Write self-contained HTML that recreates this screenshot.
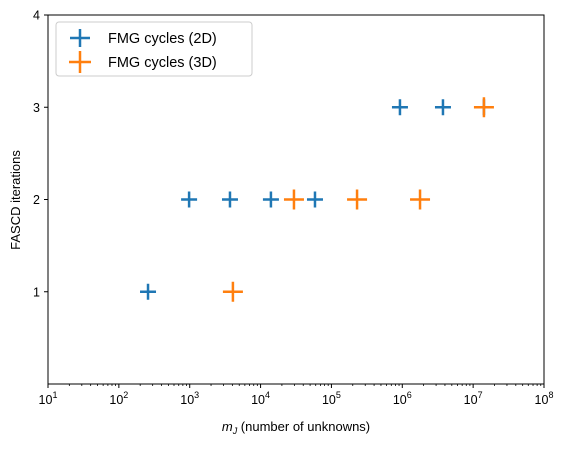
<!DOCTYPE html>
<html><head><meta charset="utf-8"><style>
body{margin:0;background:#fff;}
svg text{font-family:"Liberation Sans","DejaVu Sans",sans-serif;}
</style></head><body>
<svg id="chart" width="566" height="448" viewBox="0 0 566 448">
<rect x="0" y="0" width="566" height="448" fill="#fff"/>
<g id="marks"></g>
<rect x="48" y="15" width="496" height="369" fill="none" stroke="#000" stroke-width="1"/>
<g id="axes"></g>
<text x="296" y="431" font-size="13" text-anchor="middle"><tspan font-style="italic">m</tspan><tspan font-style="italic" font-size="9" dy="3">J</tspan><tspan dy="-3">  (number of unknowns)</tspan></text>
<text transform="translate(20,200) rotate(-90)" font-size="13" text-anchor="middle">FASCD iterations</text>
<g>
<rect x="56" y="22" width="196" height="54" rx="3" fill="#fff" stroke="#ccc" stroke-width="1" fill-opacity="0.8"/>
<g>
<line x1="70" y1="38" x2="90" y2="38" stroke="#1f77b4" stroke-width="2.5"/><line x1="80" y1="29" x2="80" y2="47" stroke="#1f77b4" stroke-width="2.5"/>
<text x="108" y="43" font-size="14.5">FMG cycles (2D)</text></g>
<g>
<line x1="69" y1="62" x2="91" y2="62" stroke="#ff7f0e" stroke-width="2.5"/><line x1="80" y1="51" x2="80" y2="73" stroke="#ff7f0e" stroke-width="2.5"/>
<text x="108" y="67" font-size="14.5">FMG cycles (3D)</text></g>
</g>
</svg>
<script>
const x2d=[258,980,3700,14000,58600,927000,3750000,14200000];
const y2d=[1,2,2,2,2,3,3,3];
const x3d=[4070,29600,230000,1780000,14200000];
const y3d=[1,2,2,2,3];
const xTickExps=[1,2,3,4,5,6,7,8];
const yTicks=[1,2,3,4];
const L=48,R=544,T=15,B=384;
const xs=v=>L+(Math.log10(v)-1)/7*(R-L);
const ys=v=>B-v/4*(B-T);
const NS="http://www.w3.org/2000/svg";
const ax=document.getElementById('axes'),mk=document.getElementById('marks');
function el(t,a,p){const e=document.createElementNS(NS,t);for(const k in a)e.setAttribute(k,a[k]);p.appendChild(e);return e;}
xTickExps.forEach(e=>{const x=xs(Math.pow(10,e));
el('line',{x1:x,y1:B,x2:x,y2:B+4,stroke:'#000'},ax);
const t=el('text',{x:x,y:B+20,'font-size':'12.5','text-anchor':'middle'},ax);


t.innerHTML='10<tspan font-size="9" dy="-6">'+e+'</tspan>';
if(e<8)for(let m=2;m<10;m++){const xm=xs(m*Math.pow(10,e));el('line',{x1:xm,y1:B,x2:xm,y2:B+2,stroke:'#000','stroke-width':0.8},ax);}
});
yTicks.forEach(v=>{const y=ys(v);
el('line',{x1:L-4,y1:y,x2:L,y2:y,stroke:'#000'},ax);
const t=el('text',{x:L-8,y:y+4.5,'font-size':'12.5','text-anchor':'end'},ax);


t.textContent=v;});
function plus(x,y,h,c,name){const g=el('g',{},mk);


el('line',{x1:x-h,y1:y,x2:x+h,y2:y,stroke:c,'stroke-width':2.5},g);
el('line',{x1:x,y1:y-h,x2:x,y2:y+h,stroke:c,'stroke-width':2.5},g);}
x2d.forEach((v,i)=>plus(xs(v),ys(y2d[i]),8,'#1f77b4','point-2d'));
x3d.forEach((v,i)=>plus(xs(v),ys(y3d[i]),10,'#ff7f0e','point-3d'));
</script>
</body></html>
